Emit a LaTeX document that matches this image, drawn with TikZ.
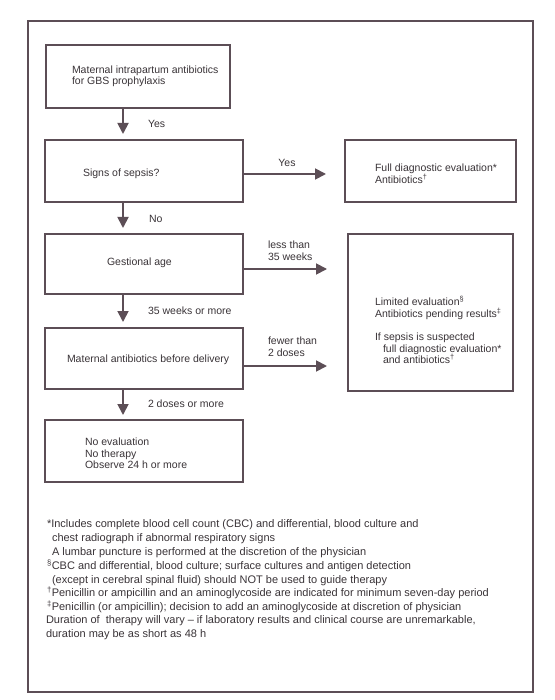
\documentclass[tikz,border=0pt]{standalone}
\usepackage{fontspec}
\setmainfont{Liberation Sans}
\usetikzlibrary{arrows.meta}
\definecolor{linec}{RGB}{92,78,86}
\definecolor{textc}{RGB}{58,52,56}
\begin{document}
\begin{tikzpicture}[x=1pt,y=-1pt,
  frame/.style={draw=linec,line width=1.2pt},
  box/.style={draw=linec,line width=1.6pt,inner sep=0pt,outer sep=0pt},
  txt/.style={anchor=base west,inner sep=0pt,outer sep=0pt,text=textc,font=\fontsize{10.5}{12}\selectfont},
  lbl/.style={txt},
  foot/.style={anchor=base west,inner sep=0pt,outer sep=0pt,text=textc,font=\fontsize{11}{13}\selectfont},
  arr/.style={draw=linec,line width=1.8pt,-{Triangle[length=11pt,width=11pt]}}]
\useasboundingbox (0,0) rectangle (554,700);
\fill[white] (0,0) rectangle (554,700);
\node[frame,inner sep=0pt,minimum width=505pt,minimum height=671pt] (fr) at (280.5,356.5) {};
% boxes
\node[box,minimum width=184pt,minimum height=63pt] (b1) at (138,76.5) {};
\node[box,minimum width=198pt,minimum height=62pt] (b2) at (144,171) {};
\node[box,minimum width=171pt,minimum height=62pt] (r1) at (430.5,171) {};
\node[box,minimum width=198pt,minimum height=60pt] (b3) at (144,264) {};
\node[box,minimum width=165pt,minimum height=157pt] (r2) at (430.5,312.5) {};
\node[box,minimum width=198pt,minimum height=61pt] (b4) at (144,358.5) {};
\node[box,minimum width=198pt,minimum height=62pt] (b5) at (144,451) {};
% box texts
\node[txt] (t1a) at (72,73.5) {Maternal intrapartum antibiotics};
\node[txt] (t1b) at (72,85) {for GBS prophylaxis};
\node[txt] (t2) at (83,176.5) {Signs of sepsis?};
\node[txt] (tr1a) at (375,171.5) {Full diagnostic evaluation*};
\node[txt] (tr1b) at (375,183.5) {Antibiotics\textsuperscript{†}};
\node[txt] (t3) at (107,265.5) {Gestional age};
\node[txt] (tr2a) at (375,305.5) {Limited evaluation\textsuperscript{§}};
\node[txt] (tr2b) at (375,317) {Antibiotics pending results\textsuperscript{‡}};
\node[txt] (tr2c) at (375,340.5) {If sepsis is suspected};
\node[txt] (tr2d) at (383,352) {full diagnostic evaluation*};
\node[txt] (tr2e) at (383,363.5) {and antibiotics\textsuperscript{†}};
\node[txt] (t4) at (67,362.5) {Maternal antibiotics before delivery};
\node[txt] (t5a) at (85,445.5) {No evaluation};
\node[txt] (t5b) at (85,457) {No therapy};
\node[txt] (t5c) at (85,468.5) {Observe 24 h or more};
% arrows
\coordinate (ax) at (123,0);
\draw[arr,shorten >=6pt] (b1.south -| ax) -- (b2.north -| ax);
\draw[arr,shorten >=6pt] (b2.south -| ax) -- (b3.north -| ax);
\draw[arr,shorten >=6pt] (b3.south -| ax) -- (b4.north -| ax);
\draw[arr,shorten >=5pt] (b4.south -| ax) -- (b5.north -| ax);
\draw[arr,shorten >=19pt] ([yshift=-3pt]b2.east) -- ([yshift=-3pt]b2.east -| r1.west);
\draw[arr,shorten >=21pt] ([yshift=-5pt]b3.east) -- ([yshift=-5pt]b3.east -| r2.west);
\draw[arr,shorten >=21pt] ([yshift=-7.5pt]b4.east) -- ([yshift=-7.5pt]b4.east -| r2.west);
% labels
\node[lbl] (l1) at (148,127.5) {Yes};
\node[lbl,anchor=base] (l2) at (287,167) {Yes};
\node[lbl] (l3) at (149,222.5) {No};
\node[lbl] (l4a) at (268,248.5) {less than};
\node[lbl] (l4b) at (268,260) {35 weeks};
\node[lbl] (l5) at (148,314.5) {35 weeks or more};
\node[lbl] (l6a) at (268,344.5) {fewer than};
\node[lbl] (l6b) at (268,356) {2 doses};
\node[lbl] (l7) at (148,407.5) {2 doses or more};
% footnotes
\node[foot] (f1) at (47,527) {*Includes complete blood cell count (CBC) and differential, blood culture and};
\node[foot] (f2) at (52,541) {chest radiograph if abnormal respiratory signs};
\node[foot] (f3) at (52,555) {A lumbar puncture is performed at the discretion of the physician};
\node[foot] (f4) at (47,569) {\textsuperscript{§}CBC and differential, blood culture; surface cultures and antigen detection};
\node[foot] (f5) at (52,583) {(except in cerebral spinal fluid) should NOT be used to guide therapy};
\node[foot] (f6) at (47,596.5) {\textsuperscript{†}Penicillin or ampicillin and an aminoglycoside are indicated for minimum seven-day period};
\node[foot] (f7) at (47,610) {\textsuperscript{‡}Penicillin (or ampicillin); decision to add an aminoglycoside at discretion of physician};
\node[foot] (f8) at (46,623) {Duration of \ therapy will vary – if laboratory results and clinical course are unremarkable,};
\node[foot] (f9) at (46,637) {duration may be as short as 48 h};
\end{tikzpicture}
\end{document}
